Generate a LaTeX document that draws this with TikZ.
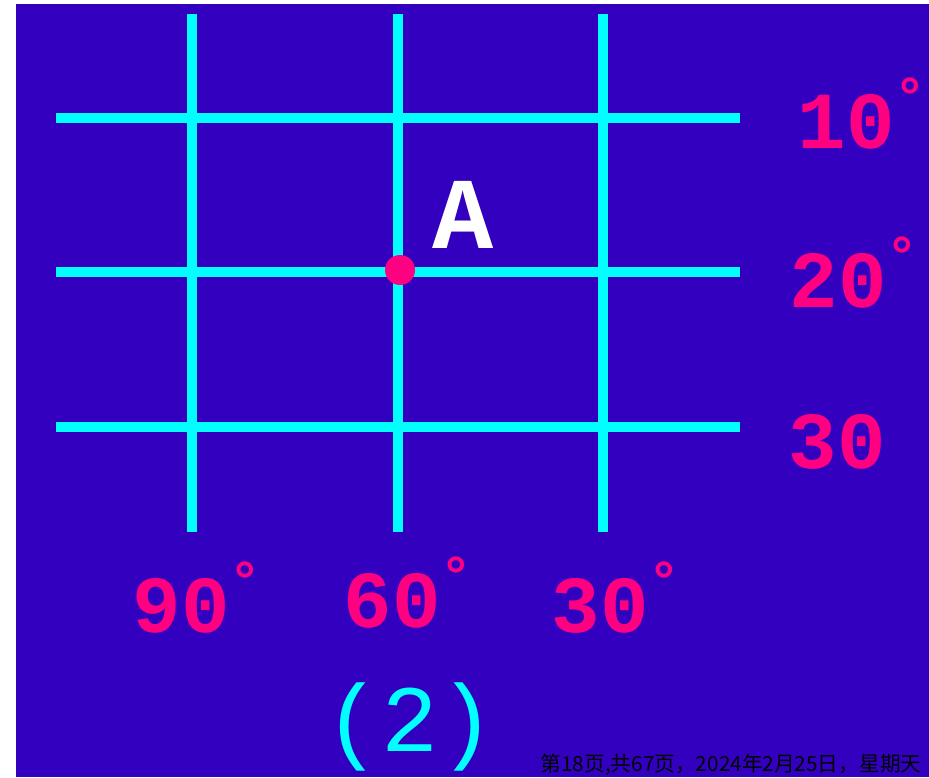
\documentclass[tikz,border=0pt]{standalone}
\usepackage{fontspec}
\setmainfont{Liberation Mono}
\newfontfamily\cjk{Noto Sans CJK SC}
\usepackage{xcolor}
\usepackage{tikz}
\usetikzlibrary{positioning}

\definecolor{bgblue}{HTML}{3300C0}
\definecolor{gridcyan}{HTML}{00FFFF}
\definecolor{dotpink}{HTML}{FF0080}
\newcommand{\degmark}{\raisebox{0.42em}{\fontsize{30}{30}\selectfont °}}

\begin{document}
\begin{tikzpicture}[x=0.02cm,y=-0.02cm,
  gridline/.style={gridcyan,line width=5.7pt},
  deglabel/.style={text=dotpink,font=\bfseries\fontsize{46}{46}\selectfont,inner sep=0pt,anchor=base}]
\useasboundingbox (0,0) rectangle (929,777);
\fill[bgblue] (16,4) rectangle (929,777);

% meridians and parallels
\foreach \x in {192,398,603}
  \draw[gridline] (\x,14) -- (\x,532);
\foreach \y in {118,272,427}
  \draw[gridline] (56,\y) -- (740,\y);

\fill[dotpink] (400,270) circle (15);
\node[text=white,font=\bfseries\fontsize{58}{58}\selectfont,inner sep=0pt,anchor=base] (ptA) at (463,248) {A};

% latitude labels
\node[deglabel] (lat10) at (862,148) {10\degmark};
\node[deglabel] (lat20) at (854,307) {20\degmark};
\node[deglabel] (lat30) at (837,468) {30};

% longitude labels
\node[deglabel] (lon90) at (197,632) {90\degmark};
\node[deglabel] (lon60) at (408,627) {60\degmark};
\node[deglabel] (lon30) at (616,632) {30\degmark};

\node[text=gridcyan,font=\fontsize{54}{54}\selectfont,inner sep=0pt] (fig) at (410,727) {(2)};
\node[anchor=south east,font=\cjk\fontsize{11.8}{12}\selectfont,inner sep=0pt] (footer) at (922,776) {第18页,共67页，2024年2月25日，星期天};
\end{tikzpicture}
\end{document}
